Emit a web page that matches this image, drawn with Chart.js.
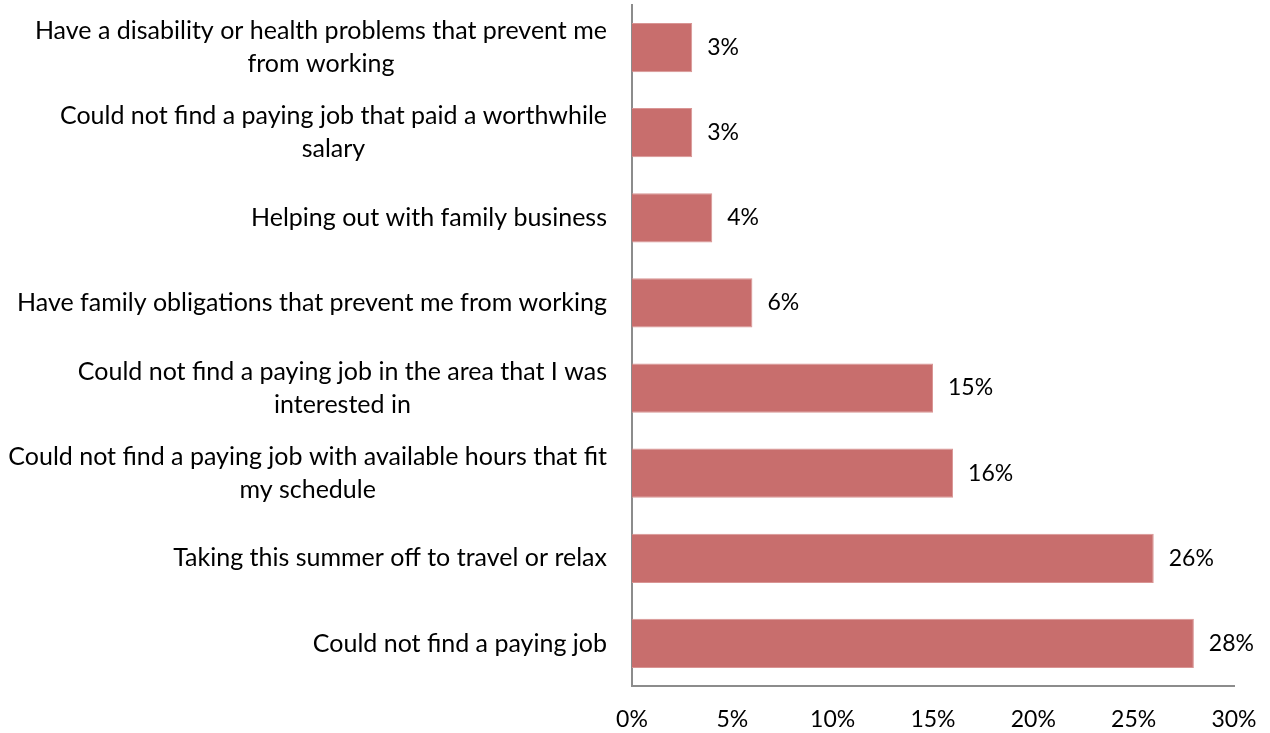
<!DOCTYPE html>
<html>
<head>
<meta charset="utf-8">
<script src="https://cdn.jsdelivr.net/npm/chart.js@4"></script>
<style>
  html, body { margin: 0; padding: 0; background: #fff; }
  #wrap { width: 1270px; height: 733px; }
</style>
</head>
<body>
<div id="wrap"><canvas id="reasonsChart"></canvas></div>
<script>
// reasons for not working this summer, top to bottom
const reasons = [
    ['Have a disability or health problems that prevent me', 'from working'],
    ['Could not find a paying job that paid a worthwhile', 'salary'],
    ['Helping out with family business'],
    ['Have family obligations that prevent me from working'],
    ['Could not find a paying job in the area that I was', 'interested in'],
    ['Could not find a paying job with available hours that fit', 'my schedule'],
    ['Taking this summer off to travel or relax'],
    ['Could not find a paying job']
];
const shares = [3, 3, 4, 6, 15, 16, 26, 28];
const xTicks = [0, 5, 10, 15, 20, 25, 30];

const FONT = 'Lato, "Open Sans", sans-serif';
const LABEL_SIZE = 25;
const NUM_SIZE = 23;

// category labels: each block right-aligned at the axis, lines centred inside the block
const categoryLabels = {
    id: 'categoryLabels',
    afterDraw(chart) {
        const ctx = chart.ctx;
        const yScale = chart.scales.y;
        const right = chart.chartArea.left - 25;
        const lineHeight = 33;
        ctx.save();
        ctx.font = LABEL_SIZE + 'px ' + FONT;
        ctx.fillStyle = '#000';
        ctx.textAlign = 'center';
        ctx.textBaseline = 'middle';
        reasons.forEach((lines, i) => {
            const widest = Math.max(...lines.map(l => ctx.measureText(l).width));
            const cx = right - widest / 2;
            const cy = yScale.getPixelForValue(i);
            const startY = cy - (lines.length - 1) * lineHeight / 2;
            lines.forEach((l, j) => ctx.fillText(l, cx, startY + j * lineHeight));
        });
        ctx.restore();
    }
};

// percentage next to the end of every bar
const valueLabels = {
    id: 'valueLabels',
    afterDatasetsDraw(chart) {
        const ctx = chart.ctx;
        const meta = chart.getDatasetMeta(0);
        ctx.save();
        ctx.font = NUM_SIZE + 'px ' + FONT;
        ctx.fillStyle = '#000';
        ctx.textAlign = 'left';
        ctx.textBaseline = 'middle';
        meta.data.forEach((bar, i) => {
            ctx.fillText(shares[i] + '%', bar.x + 15, bar.y);
        });
        ctx.restore();
    }
};

new Chart(document.getElementById('reasonsChart'), {
    type: 'bar',
    data: {
        labels: reasons.map(r => r.join(' ')),
        datasets: [{
            data: shares,
            backgroundColor: '#C86E6D',
            borderColor: '#D99594',
            borderWidth: 1,
            categoryPercentage: 1,
            barPercentage: 0.58
        }]
    },
    options: {
        indexAxis: 'y',
        responsive: true,
        maintainAspectRatio: false,
        animation: false,
        layout: { padding: { left: 632, right: 36, top: 5, bottom: 0 } },
        plugins: {
            legend: { display: false },
            tooltip: { enabled: false }
        },
        scales: {
            x: {
                min: 0,
                max: 30,
                afterBuildTicks: scale => {
                    scale.ticks = xTicks.map(v => ({ value: v }));
                },
                afterFit: scale => {
                    scale.height = 47;
                    scale.paddingLeft = 0;
                    scale.paddingRight = 0;
                },
                grid: { display: false, drawTicks: false },
                border: { display: true, color: '#8c8c8c', width: 2 },
                ticks: {
                    padding: 20,
                    color: '#000',
                    font: { family: FONT, size: NUM_SIZE },
                    callback: v => v + '%'
                }
            },
            y: {
                grid: { display: false, drawTicks: false },
                border: { display: true, color: '#8c8c8c', width: 2 },
                ticks: { display: false },
                afterFit: scale => { scale.width = 0; }
            }
        }
    },
    plugins: [categoryLabels, valueLabels]
});
</script>
</body>
</html>
